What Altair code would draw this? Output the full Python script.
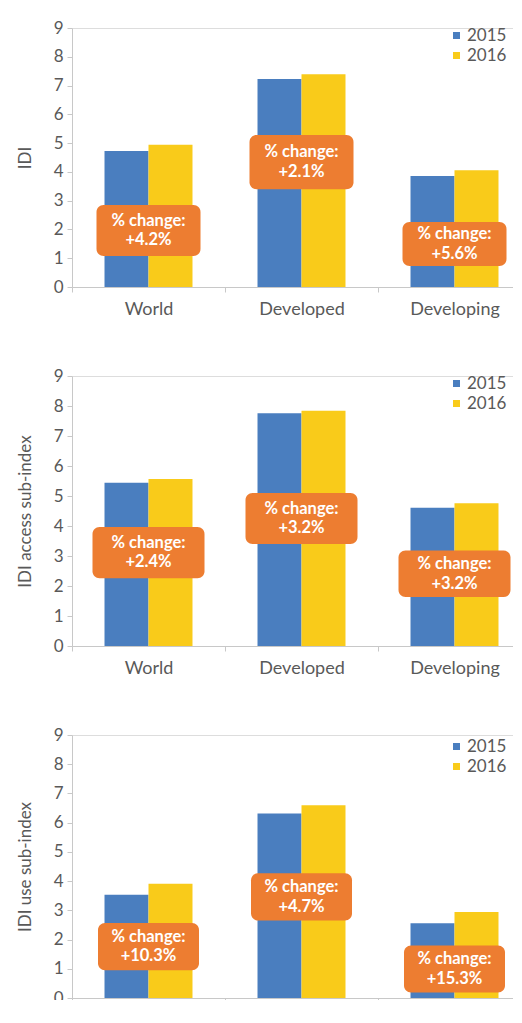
import altair as alt
import pandas as pd

categories = ["World", "Developed", "Developing"]
years = ["2015", "2016"]
colors = ["#4A7EBF", "#F9CB1A"]
box_color = "#ED7D31"

idi_2015 = [4.73, 7.23, 3.86]
idi_2016 = [4.94, 7.39, 4.06]
idi_change = ["+4.2%", "+2.1%", "+5.6%"]
idi_box_lo = [1.08, 3.40, 0.73]
idi_box_hi = [2.85, 5.28, 2.26]

access_2015 = [5.44, 7.76, 4.61]
access_2016 = [5.57, 7.84, 4.76]
access_change = ["+2.4%", "+3.2%", "+3.2%"]
access_box_lo = [2.26, 3.40, 1.63]
access_box_hi = [3.97, 5.10, 3.18]

use_2015 = [3.53, 6.31, 2.56]
use_2016 = [3.91, 6.60, 2.94]
use_change = ["+10.3%", "+4.7%", "+15.3%"]
use_box_lo = [0.95, 2.65, 0.19]
use_box_hi = [2.57, 4.27, 1.80]

titles = ["IDI", "IDI access sub-index", "IDI use sub-index"]
y_ticks = list(range(0, 10))

FONT = "Lato"
GRAY = "#595959"
AXIS_GRAY = "#c8c8c8"


def panel(v15, v16, changes, lo, hi, title, height, box_w, leg_y, lab_pad):
    bars_df = pd.DataFrame({
        "category": categories * 2,
        "year": [years[0]] * 3 + [years[1]] * 3,
        "value": v15 + v16,
    })
    box_df = pd.DataFrame({
        "category": categories,
        "lo": lo,
        "hi": hi,
        "mid": [(a + b) / 2 for a, b in zip(lo, hi)],
        "label": ["% change:\n" + c for c in changes],
    })
    x_axis = alt.Axis(title=None, tickBand="extent", tickSize=5, labelPadding=lab_pad,
                      labelFontSize=18, labelColor=GRAY, labelFont=FONT,
                      domainColor=AXIS_GRAY, tickColor=AXIS_GRAY, labelAngle=0)
    x_scale = alt.Scale(paddingInner=0, paddingOuter=0)
    y_axis = alt.Axis(title=title, values=y_ticks, grid=False, tickSize=5,
                      labelPadding=4, labelFontSize=17, labelColor=GRAY,
                      labelFont=FONT, titleFont=FONT, titleFontSize=17,
                      titleFontWeight="normal", titleColor=GRAY,
                      titlePadding=18.5, domainColor=AXIS_GRAY,
                      tickColor=AXIS_GRAY)
    y_scale = alt.Scale(domain=[0, 9], nice=False)

    def X():
        return alt.X("category:N", sort=categories, scale=x_scale, axis=x_axis)

    def Y(field):
        return alt.Y(field, scale=y_scale, axis=y_axis)

    bars = alt.Chart(bars_df).mark_bar().encode(
        x=X(),
        xOffset=alt.XOffset("year:N", sort=years,
                            scale=alt.Scale(paddingInner=0, paddingOuter=0.739)),
        y=Y("value:Q"),
        color=alt.Color("year:N", sort=years,
                        scale=alt.Scale(domain=years, range=colors),
                        legend=alt.Legend(title=None, orient="none", legendX=376,
                                          legendY=leg_y, padding=0, symbolType="square",
                                          symbolSize=49, symbolStrokeWidth=0,
                                          labelFontSize=17, labelFont=FONT,
                                          labelColor=GRAY, labelOffset=2,
                                          rowPadding=2)),
    )
    boxes = alt.Chart(box_df).mark_bar(width=box_w, cornerRadius=7, color=box_color).encode(
        x=X(),
        y=Y("lo:Q"),
        y2="hi:Q",
    )
    texts = alt.Chart(box_df).mark_text(
        lineBreak="\n", font=FONT, fontSize=16.5, fontWeight="bold", color="white",
        align="center", baseline="middle", lineHeight=19.5, dy=-9.75,
    ).encode(
        x=X(),
        y=Y("mid:Q"),
        text="label:N",
    )
    return alt.layer(bars, boxes, texts).properties(width=459, height=height)


p1 = panel(idi_2015, idi_2016, idi_change, idi_box_lo, idi_box_hi, titles[0], 259, 104, -1, 8)
p2 = panel(access_2015, access_2016, access_change, access_box_lo, access_box_hi, titles[1], 270, 112, -1, 8)
p3 = panel(use_2015, use_2016, use_change, use_box_lo, use_box_hi, titles[2], 263, 101, 3, 5)

chart = alt.vconcat(p1, p2, p3, spacing=47).resolve_scale(
    color="independent", y="independent", x="independent"
).resolve_legend(color="independent").properties(
    padding={"left": 8, "top": 10, "right": -19, "bottom": -27}
).configure_view(strokeWidth=0).configure(font=FONT)

chart.save("out.html", embed_options={"renderer": "svg", "actions": False})
